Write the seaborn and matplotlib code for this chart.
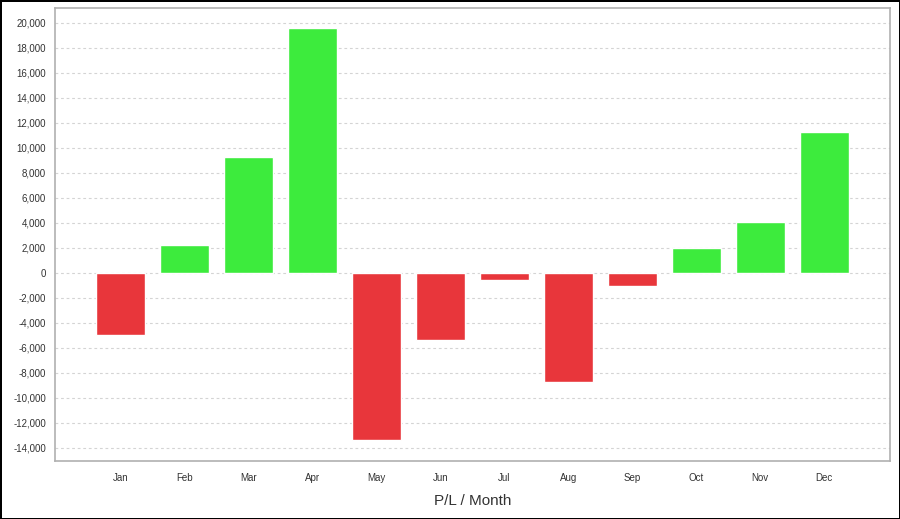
import matplotlib
matplotlib.use("Agg")
import matplotlib.pyplot as plt
import seaborn as sns
import pandas as pd
from matplotlib.ticker import FuncFormatter, MultipleLocator

# P/L per month
months = ['Jan', 'Feb', 'Mar', 'Apr', 'May', 'Jun', 'Jul', 'Aug', 'Sep', 'Oct', 'Nov', 'Dec']
pl = [-5000, 2240, 9280, 19600, -13360, -5360, -560, -8720, -1040, 1960, 4080, 11280]

df = pd.DataFrame({'Month': months, 'PL': pl})
df['Sign'] = ['gain' if v >= 0 else 'loss' for v in df['PL']]

sns.set_style("white")
plt.rcParams['font.family'] = ['Liberation Sans', 'DejaVu Sans']

fig = plt.figure(figsize=(9, 5.19), dpi=100)
fig.patch.set_edgecolor('black')
fig.patch.set_linewidth(2)
ax = fig.add_axes([0.061, 0.112, 0.928, 0.873])

sns.barplot(data=df, x='Month', y='PL', hue='Sign', dodge=False, legend=False,
            palette={'gain': '#3DEB3D', 'loss': '#E8363B'}, width=0.77,
            saturation=1, ax=ax, zorder=3)

ax.set_xlim(-1.02, 12.03)
ax.set_ylim(-15040, 21200)
ax.yaxis.set_major_locator(MultipleLocator(2000))
ax.yaxis.set_major_formatter(FuncFormatter(lambda v, p: f"{int(v):,}"))
ax.grid(axis='y', color='#d4d4d4', linestyle=(0, (2.5, 2.5)), linewidth=0.8, zorder=0)
ax.set_axisbelow(True)

for s in ax.spines.values():
    s.set_color('#b0b0b0')
    s.set_linewidth(1.2)

ax.tick_params(axis='both', labelsize=7, colors='#333333', length=3, width=0.8)
ax.tick_params(axis='both', color='#b0b0b0')
ax.tick_params(axis='x', pad=6)
ax.set_ylabel('')
ax.set_xlabel('P/L / Month', fontsize=11, color='#333333', labelpad=8)

fig.savefig('out.png', dpi=100, edgecolor=fig.get_edgecolor())
